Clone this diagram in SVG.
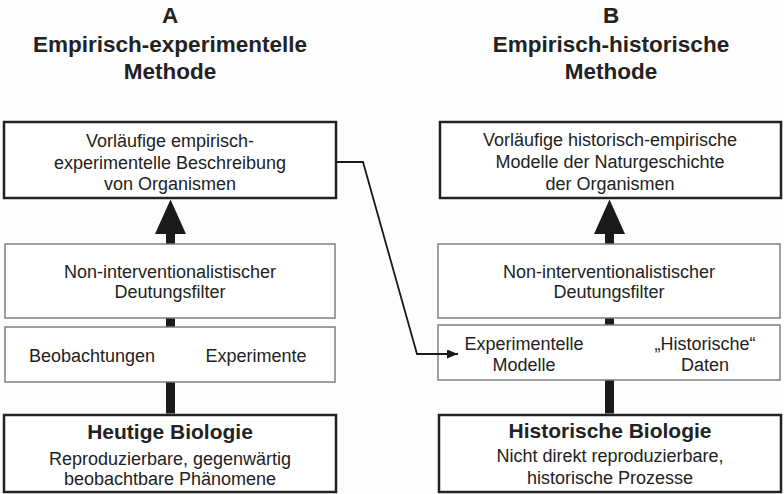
<svg xmlns="http://www.w3.org/2000/svg" width="784" height="494" viewBox="0 0 784 494">
  <style>
    text { font-family: "Liberation Sans", Arial, sans-serif; fill: #222; text-anchor: middle; }
    .h { font-size: 22.5px; font-weight: bold; }
    .t { font-size: 18px; }
    .b { font-size: 21px; font-weight: bold; }
    .thick { fill: #fff; stroke: #222; stroke-width: 2.5; }
    .thin { fill: #fff; stroke: #808080; stroke-width: 1.5; }
    .shaft { fill: #1a1a1a; }
    .conn { fill: none; stroke: #1a1a1a; stroke-width: 1.8; }
  </style>
  <defs>
    <marker id="ah" markerWidth="11" markerHeight="9" refX="11" refY="4.5" orient="auto" markerUnits="userSpaceOnUse">
      <path d="M0,0 L11,4.5 L0,9 Z" fill="#1a1a1a"/>
    </marker>
  </defs>
  <rect width="784" height="494" fill="#fdfdfd"/>

  <g id="title-a">
    <text class="h" x="170" y="23">A</text>
    <text class="h" x="170" y="52">Empirisch-experimentelle</text>
    <text class="h" x="170" y="79">Methode</text>
  </g>
  <g id="title-b">
    <text class="h" x="611" y="23">B</text>
    <text class="h" x="611" y="52">Empirisch-historische</text>
    <text class="h" x="611" y="79">Methode</text>
  </g>

  <g id="a-result">
    <rect class="thick" x="4" y="122" width="332" height="76"/>
    <text class="t" x="170" y="147">Vorläufige empirisch-</text>
    <text class="t" x="170" y="168.5">experimentelle Beschreibung</text>
    <text class="t" x="170" y="190">von Organismen</text>
  </g>
  <g id="a-filter">
    <rect class="thin" x="5" y="244" width="330" height="74"/>
    <text class="t" x="170" y="278">Non-interventionalistischer</text>
    <text class="t" x="170" y="298">Deutungsfilter</text>
  </g>
  <g id="a-data">
    <rect class="thin" x="5" y="327" width="330" height="55"/>
    <text class="t" x="92" y="362">Beobachtungen</text>
    <text class="t" x="256" y="362">Experimente</text>
  </g>
  <g id="a-base">
    <rect class="thick" x="4" y="415" width="332" height="77"/>
    <text class="b" x="170" y="439">Heutige Biologie</text>
    <text class="t" x="170" y="465">Reproduzierbare, gegenwärtig</text>
    <text class="t" x="170" y="485">beobachtbare Phänomene</text>
  </g>

  <g id="b-result">
    <rect class="thick" x="440" y="122" width="341" height="76"/>
    <text class="t" x="610" y="146">Vorläufige historisch-empirische</text>
    <text class="t" x="610" y="168">Modelle der Naturgeschichte</text>
    <text class="t" x="610" y="190">der Organismen</text>
  </g>
  <g id="b-filter">
    <rect class="thin" x="438" y="244" width="342" height="74"/>
    <text class="t" x="609" y="278">Non-interventionalistischer</text>
    <text class="t" x="609" y="298">Deutungsfilter</text>
  </g>
  <g id="b-data">
    <rect class="thin" x="438" y="325" width="342" height="55"/>
    <text class="t" x="524" y="350">Experimentelle</text>
    <text class="t" x="524" y="371">Modelle</text>
    <text class="t" x="705" y="350">„Historische“</text>
    <text class="t" x="705" y="371">Daten</text>
  </g>
  <g id="b-base">
    <rect class="thick" x="439" y="415" width="342" height="77"/>
    <text class="b" x="610" y="438">Historische Biologie</text>
    <text class="t" x="610" y="462">Nicht direkt reproduzierbare,</text>
    <text class="t" x="610" y="484">historische Prozesse</text>
  </g>

  <g id="connectors">
    <rect class="shaft" x="166" y="233" width="9" height="10.5"/>
    <path class="shaft" d="M170.5,199.5 L186,234 L155,234 Z"/>
    <rect class="shaft" x="166" y="318.5" width="9" height="8"/>
    <rect class="shaft" x="166" y="382.5" width="9" height="31"/>
    <rect class="shaft" x="605" y="233" width="9" height="10.5"/>
    <path class="shaft" d="M609.5,199.5 L625,234 L594,234 Z"/>
    <rect class="shaft" x="605" y="318.5" width="9" height="6"/>
    <rect class="shaft" x="605" y="380.5" width="9" height="33"/>
    <polyline class="conn" points="337,162 363,162 417,354 458,354" marker-end="url(#ah)"/>
  </g>
</svg>
